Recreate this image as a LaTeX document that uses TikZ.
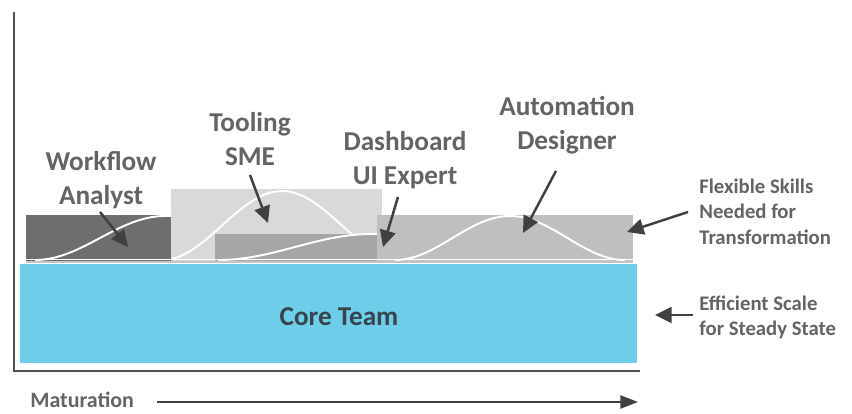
\documentclass[tikz,border=0pt]{standalone}
\usepackage{fontspec}
\setmainfont{Carlito}
\usetikzlibrary{arrows.meta}

\definecolor{coreblue}{HTML}{6ECDE9}
\definecolor{axisgray}{HTML}{505050}
\definecolor{arrowgray}{HTML}{404040}
\definecolor{labelgray}{HTML}{646464}
\definecolor{coretext}{HTML}{37444D}
\definecolor{workflowfill}{HTML}{6E6E6E}
\definecolor{toolingfill}{HTML}{D9D9D9}
\definecolor{dashfill}{HTML}{A6A6A6}
\definecolor{autofill}{HTML}{BFBFBF}
\definecolor{seamgray}{HTML}{C4C4C4}

\begin{document}
\begin{tikzpicture}[x=0.02cm, y=-0.02cm,
  axis/.style={draw=axisgray, line width=1.6pt},
  bump/.style={draw=white, line width=1.1pt, smooth},
  pointer/.style={draw=arrowgray, line width=1.4pt, -{Triangle[length=9.5pt,width=9pt]}},
  timeline/.style={draw=arrowgray, line width=0.9pt, -{Triangle[length=10pt,width=7.5pt]}},
  biglabel/.style={font=\fontsize{15.5}{19.3}\selectfont\bfseries, text=labelgray, align=center, inner sep=0pt},
  sidelabel/.style={font=\fontsize{11.8}{14.5}\selectfont\bfseries, text=labelgray, align=left, inner sep=0pt, anchor=west}]
\useasboundingbox (0,0) rectangle (852,413);

% axes
\draw[axis] (14,12) |- (640,371);

% core team band
\fill[coreblue] (20,264) rectangle (637,363);
\node[font=\fontsize{15.5}{19}\selectfont\bfseries, text=coretext, inner sep=0pt] (core) at (339,317) {Core Team};

% transformation skills: boxes with their demand curves
\fill[toolingfill] (171,189) rectangle (382,261);
\draw[bump, domain=171:377, samples=60] plot (\x, {260-34.5*(1+cos((\x-282)*1.5))});

\fill[workflowfill] (26,215) rectangle (171,261);
\draw[bump, domain=35:165, samples=40] plot (\x, {260-22*(1-cos((\x-35)*1.3846))}) -- (171,216);

\fill[dashfill] (215,234) rectangle (377,261);
\draw[bump, domain=218:372, samples=40] plot (\x, {260-13*(1-cos((\x-218)*1.1688))}) -- (377,234);

\fill[autofill] (377,215) rectangle (633,261);
\draw[bump, domain=395:625, samples=60] plot (\x, {260-22*(1+cos((\x-510)*1.5652))});

% base seam under the skill boxes
\draw[seamgray, line width=0.6pt] (26,262) -- (633,262);
\draw[white, line width=1.1pt] (26,259.5) -- (633,259.5);

% role labels
\node[biglabel] (wf)   at (101,180) {Workflow\\Analyst};
\node[biglabel] (tool) at (250,139) {Tooling\\SME};
\node[biglabel] (dash) at (405,160) {Dashboard\\UI Expert};
\node[biglabel] (auto) at (567,125) {Automation\\Designer};

% role pointers
\coordinate (wfTail) at (100,212);   \coordinate (wfTip) at (128,247);
\coordinate (toolTail) at (250,175); \coordinate (toolTip) at (268,223);
\coordinate (dashTail) at (398,197); \coordinate (dashTip) at (383,247);
\coordinate (autoTail) at (556,171); \coordinate (autoTip) at (523,233);
\draw[pointer] (wfTail) -- (wfTip);
\draw[pointer] (toolTail) -- (toolTip);
\draw[pointer] (dashTail) -- (dashTip);
\draw[pointer] (autoTail) -- (autoTip);

% side notes
\node[sidelabel] (flex) at (699,211.5) {Flexible Skills\\Needed for\\Transformation};
\node[sidelabel] (eff)  at (699,317.5) {Efficient Scale\\for Steady State};
\coordinate (flexTail) at (688,212); \coordinate (flexTip) at (627,232);
\coordinate (effTail) at (693,315);  \coordinate (effTip) at (655,315);
\draw[pointer] (flexTail) -- (flexTip);
\draw[pointer] (effTail) -- (effTip);

% maturation timeline
\node[font=\fontsize{12.5}{15}\selectfont\bfseries, text=labelgray, anchor=west, inner sep=0pt] (mat) at (30,400) {Maturation};
\coordinate (matStart) at (157,402);
\coordinate (matEnd) at (638,402);
\draw[timeline] (matStart) -- (matEnd);
\end{tikzpicture}
\end{document}
